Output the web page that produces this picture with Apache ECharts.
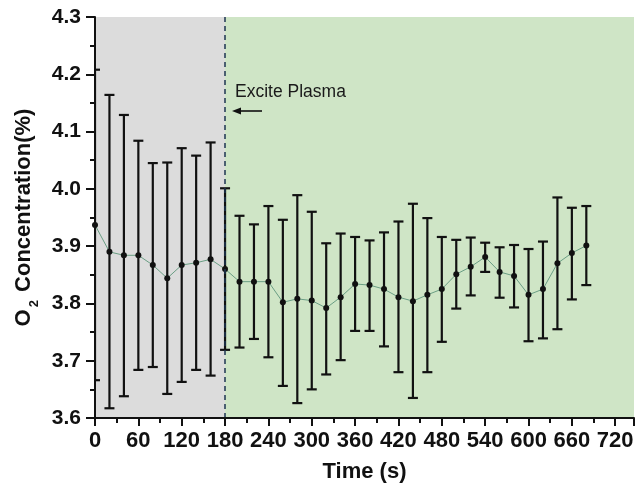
<!DOCTYPE html>
<html>
<head>
<meta charset="utf-8">
<script src="https://cdn.jsdelivr.net/npm/echarts@6/dist/echarts.min.js"></script>
<style>html,body{margin:0;padding:0;background:#fff;}#c{width:638px;height:488px;}</style>
</head>
<body>
<div id="c"></div>
<script>
var times = [0,20,40,60,80,100,120,140,160,180,200,220,240,260,280,300,320,340,360,380,400,420,440,460,480,500,520,540,560,580,600,620,640,660,680];
var means = [3.937,3.890,3.884,3.884,3.867,3.844,3.867,3.871,3.877,3.860,3.838,3.838,3.838,3.802,3.808,3.805,3.792,3.811,3.834,3.832,3.825,3.811,3.804,3.815,3.825,3.851,3.864,3.881,3.855,3.848,3.815,3.825,3.870,3.888,3.901];
var upper = [4.208,4.164,4.129,4.084,4.045,4.046,4.071,4.058,4.081,4.001,3.953,3.938,3.970,3.946,3.989,3.960,3.905,3.922,3.916,3.910,3.924,3.943,3.974,3.949,3.916,3.911,3.915,3.906,3.898,3.902,3.895,3.908,3.985,3.967,3.970];
var lower = [3.666,3.617,3.638,3.684,3.689,3.642,3.663,3.684,3.674,3.719,3.723,3.738,3.706,3.656,3.626,3.650,3.676,3.701,3.752,3.752,3.725,3.680,3.635,3.680,3.733,3.791,3.814,3.855,3.810,3.793,3.734,3.739,3.755,3.807,3.832];
var plasmaStart = 180;
var xTicks = {min: 0, max: 746, interval: 60};
var yTicks = {min: 3.6, max: 4.3, interval: 0.1};

var FONT = "'Liberation Sans', Arial, sans-serif";
var chart = echarts.init(document.getElementById('c'), null, {renderer: 'canvas'});

var lineData = times.map(function (t, i) { return [t, means[i]]; });
var errData = times.map(function (t, i) { return [t, lower[i], upper[i]]; });

var option = {
  animation: false,
  backgroundColor: '#ffffff',
  grid: {left: 95, right: 4, top: 17, bottom: 68, containLabel: false},
  xAxis: {
    type: 'value', min: xTicks.min, max: xTicks.max, interval: xTicks.interval, z: 10,
    name: 'Time (s)', nameLocation: 'middle', nameGap: 43,
    nameTextStyle: {fontFamily: FONT, fontWeight: 'bold', fontSize: 22, color: '#111'},
    axisLine: {show: true, onZero: false, lineStyle: {color: '#111', width: 2}},
    axisTick: {show: true, inside: false, length: 8, lineStyle: {color: '#111', width: 2}},
    minorTick: {show: true, splitNumber: 2, length: 5, lineStyle: {color: '#111', width: 2}},
    axisLabel: {fontFamily: FONT, fontWeight: 'bold', fontSize: 22, color: '#111', margin: 12, showMaxLabel: false},
    splitLine: {show: false}
  },
  yAxis: {
    type: 'value', min: yTicks.min, max: yTicks.max, interval: yTicks.interval, z: 10,
    name: '{a|O}{s|2}{a| Concentration(%)}', nameLocation: 'middle', nameGap: 52, nameRotate: 90,
    nameTextStyle: {
      fontFamily: FONT, fontWeight: 'bold', fontSize: 22, color: '#111',
      rich: {
        a: {fontFamily: FONT, fontWeight: 'bold', fontSize: 22, color: '#111', verticalAlign: 'bottom', padding: [0, 0, 6, 0]},
        s: {fontFamily: FONT, fontWeight: 'bold', fontSize: 13, color: '#111', verticalAlign: 'bottom', padding: [0, 2, 0, 2]}
      }
    },
    axisLine: {show: true, onZero: false, lineStyle: {color: '#111', width: 2}},
    axisTick: {show: true, inside: false, length: 9, lineStyle: {color: '#111', width: 2}},
    minorTick: {show: true, splitNumber: 2, length: 5, lineStyle: {color: '#111', width: 2}},
    axisLabel: {fontFamily: FONT, fontWeight: 'bold', fontSize: 21, color: '#111', margin: 14,
      formatter: function (v) { return v.toFixed(1); }},
    splitLine: {show: false}
  },
  graphic: [
    {type: 'text', left: 235, top: 83, z: 20,
      style: {text: 'Excite Plasma', fontFamily: FONT, fontSize: 17.5, fill: '#1a1a1a'}},
    {type: 'line', z: 20, shape: {x1: 238, y1: 111, x2: 262, y2: 111}, style: {stroke: '#111', lineWidth: 1.6}},
    {type: 'polygon', z: 20, shape: {points: [[232, 111], [241, 107.5], [241, 114.5]]}, style: {fill: '#111'}}
  ],
  series: [
    {
      type: 'line', name: 'bg', data: [], silent: true, z: 1,
      markArea: {
        silent: true,
        data: [
          [{xAxis: xTicks.min, itemStyle: {color: '#dcdcdc'}}, {xAxis: plasmaStart}],
          [{xAxis: plasmaStart, itemStyle: {color: '#cfe5c6'}}, {xAxis: xTicks.max}]
        ]
      },
      markLine: {
        silent: true, symbol: 'none', label: {show: false},
        lineStyle: {color: '#1d3550', type: [5, 4], width: 1.5},
        data: [{xAxis: plasmaStart}]
      }
    },
    {
      type: 'line', name: 'O2', data: lineData, z: 3,
      lineStyle: {color: '#6a9e84', width: 1},
      symbol: 'circle', symbolSize: 6,
      itemStyle: {color: '#111', borderWidth: 0},
      clip: true
    },
    {
      type: 'custom', name: 'err', data: errData, z: 4, clip: true,
      renderItem: function (params, api) {
        var x = api.value(0);
        var lo = api.coord([x, api.value(1)]);
        var hi = api.coord([x, api.value(2)]);
        var hw = 5;
        var st = {stroke: '#111', lineWidth: 2.2};
        return {
          type: 'group',
          children: [
            {type: 'line', shape: {x1: lo[0], y1: lo[1], x2: hi[0], y2: hi[1]}, style: st},
            {type: 'line', shape: {x1: hi[0] - hw, y1: hi[1], x2: hi[0] + hw, y2: hi[1]}, style: st},
            {type: 'line', shape: {x1: lo[0] - hw, y1: lo[1], x2: lo[0] + hw, y2: lo[1]}, style: st}
          ]
        };
      }
    }
  ]
};
chart.setOption(option);
</script>
</body>
</html>
